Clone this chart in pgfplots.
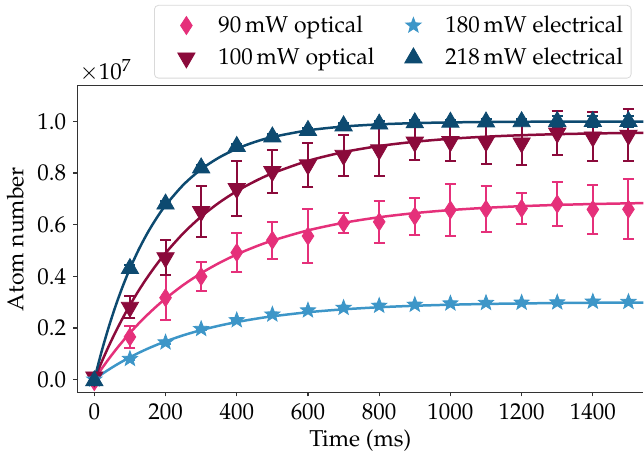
\documentclass[border=0pt]{standalone}
\usepackage[T1]{fontenc}
\usepackage{mathpazo}
\usepackage{pgfplots}
\pgfplotsset{compat=1.18}
\usepackage{pgfplotstable}

\definecolor{cpink}{HTML}{E5307A}
\definecolor{cred}{HTML}{8B0A3B}
\definecolor{clight}{HTML}{3D96C8}
\definecolor{cdark}{HTML}{0D4A70}

% filled star and slim diamond, matplotlib-like
\pgfdeclareplotmark{fstar}{%
  \pgfpathmoveto{\pgfpointpolar{90}{\pgfplotmarksize}}%
  \pgfpathlineto{\pgfpointpolar{126}{0.42*\pgfplotmarksize}}%
  \pgfpathlineto{\pgfpointpolar{162}{\pgfplotmarksize}}%
  \pgfpathlineto{\pgfpointpolar{198}{0.42*\pgfplotmarksize}}%
  \pgfpathlineto{\pgfpointpolar{234}{\pgfplotmarksize}}%
  \pgfpathlineto{\pgfpointpolar{270}{0.42*\pgfplotmarksize}}%
  \pgfpathlineto{\pgfpointpolar{306}{\pgfplotmarksize}}%
  \pgfpathlineto{\pgfpointpolar{342}{0.42*\pgfplotmarksize}}%
  \pgfpathlineto{\pgfpointpolar{18}{\pgfplotmarksize}}%
  \pgfpathlineto{\pgfpointpolar{54}{0.42*\pgfplotmarksize}}%
  \pgfpathclose\pgfusepathqfillstroke}
\pgfdeclareplotmark{fdiam}{%
  \pgfpathmoveto{\pgfpoint{0pt}{\pgfplotmarksize}}%
  \pgfpathlineto{\pgfpoint{0.65*\pgfplotmarksize}{0pt}}%
  \pgfpathlineto{\pgfpoint{0pt}{-\pgfplotmarksize}}%
  \pgfpathlineto{\pgfpoint{-0.65*\pgfplotmarksize}{0pt}}%
  \pgfpathclose\pgfusepathqfillstroke}

% data: time (ms), atom number (1e7), error
\pgfplotstableread{
x y e
0 -0.008 0.010
100 0.165 0.041
200 0.317 0.087
300 0.399 0.057
400 0.492 0.076
500 0.540 0.072
600 0.556 0.105
700 0.606 0.039
800 0.611 0.082
900 0.633 0.072
1000 0.657 0.100
1100 0.660 0.090
1200 0.663 0.060
1300 0.680 0.086
1400 0.659 0.096
1500 0.660 0.117
}\pinkdata
\pgfplotstableread{
x y e
0 0.010 0.010
100 0.280 0.042
200 0.472 0.068
300 0.651 0.100
400 0.740 0.108
500 0.806 0.084
600 0.832 0.084
700 0.869 0.079
800 0.890 0.100
900 0.920 0.070
1000 0.922 0.075
1100 0.922 0.087
1200 0.917 0.085
1300 0.955 0.084
1400 0.940 0.095
1500 0.947 0.100
}\reddata
\pgfplotstableread{
x y e
0 0.000 0.003
100 0.080 0.005
200 0.144 0.005
300 0.196 0.005
400 0.230 0.005
500 0.252 0.005
600 0.268 0.005
700 0.278 0.005
800 0.286 0.005
900 0.290 0.005
1000 0.295 0.005
1100 0.297 0.005
1200 0.298 0.005
1300 0.299 0.005
1400 0.302 0.005
1500 0.301 0.005
}\lightdata
\pgfplotstableread{
x y e
0 -0.005 0.010
100 0.430 0.015
200 0.680 0.012
300 0.820 0.012
400 0.903 0.010
500 0.940 0.010
600 0.965 0.010
700 0.983 0.012
800 0.990 0.010
900 0.995 0.010
1000 0.997 0.010
1100 0.998 0.012
1200 0.999 0.010
1300 1.000 0.020
1400 1.000 0.022
1500 1.000 0.020
}\darkdata

% fitted curves, tabulated
\pgfplotstableread{
x pink red light dark
0 0 0 0 0
20 0.0406 0.0661 0.0197 0.1063
40 0.0788 0.1278 0.0380 0.2012
60 0.1147 0.1852 0.0552 0.2862
80 0.1486 0.2386 0.0712 0.3620
100 0.1804 0.2883 0.0862 0.4298
125 0.2176 0.3457 0.1036 0.5045
150 0.2520 0.3981 0.1196 0.5695
175 0.2840 0.4461 0.1342 0.6259
200 0.3136 0.4901 0.1477 0.6749
250 0.3665 0.5669 0.1715 0.7545
300 0.4120 0.6312 0.1915 0.8146
350 0.4511 0.6850 0.2084 0.8600
400 0.4847 0.7299 0.2227 0.8943
450 0.5136 0.7675 0.2347 0.9202
500 0.5383 0.7990 0.2449 0.9397
600 0.5780 0.8474 0.2608 0.9656
700 0.6073 0.8812 0.2720 0.9804
800 0.6289 0.9049 0.2801 0.9888
900 0.6449 0.9214 0.2858 0.9936
1000 0.6567 0.9330 0.2899 0.9964
1100 0.6654 0.9411 0.2928 0.9979
1200 0.6718 0.9468 0.2949 0.9988
1300 0.6766 0.9508 0.2963 0.9993
1400 0.6801 0.9535 0.2974 0.9996
1500 0.6827 0.9555 0.2981 0.9998
1550 0.6837 0.9562 0.2984 0.9998
}\fits

\begin{document}
\begin{tikzpicture}[font=\fontsize{11.5}{13.8}\selectfont]
\begin{axis}[
    name=ax,
    scale only axis,
    width=283.5pt, height=153.5pt,
    xmin=-48, xmax=1542,
    ymin=-0.05, ymax=1.138,
    axis x line*=box, axis y line*=left,
    xtick pos=left, ytick pos=left,
    tick align=outside,
    major tick length=2pt,
    axis line style={black!80, line width=0.6pt},
    tick style={black!80, line width=0.6pt},
    xtick={0,200,400,600,800,1000,1200,1400},
    ytick={0,0.2,0.4,0.6,0.8,1.0},
    scaled y ticks=false,
    x tick label style={/pgf/number format/.cd, set thousands separator={}},
    y tick label style={/pgf/number format/.cd, fixed, fixed zerofill, precision=1},
    xlabel={Time (ms)},
    xlabel style={yshift=2pt},
    ylabel={Atom number},
    error bars/y dir=both,
    error bars/y explicit,
    error bars/error mark options={rotate=90, mark size=2.75pt, line width=1pt},
    legend columns=2,
    transpose legend,
    legend cell align=left,
    legend image code/.code={%
        \draw[#1] plot coordinates {(14pt,0pt)};
        \path[draw=none, fill=none] (0pt,0pt) -- (28pt,0pt);},
    legend style={at={(0.979,1.264)}, anchor=north east, draw=black!15,
        rounded corners=2pt, inner sep=2pt,
        nodes={inner ysep=3.2pt},
        /tikz/every even column/.append style={column sep=3.5pt}},
]
\addplot[cpink, line width=1.25pt, smooth, forget plot] table[x=x, y=pink] {\fits};
\addplot[cpink, only marks, mark=fdiam, mark size=4.5pt,
    error bars/error bar style={line width=1pt, cpink}]
    table[x=x, y=y, y error=e] {\pinkdata};
\addlegendentry{90\,mW optical}
\addplot[cred, line width=1.25pt, smooth, forget plot] table[x=x, y=red] {\fits};
\addplot[cred, only marks, mark=triangle*, mark size=5pt, mark options={rotate=180},
    error bars/error bar style={line width=1pt, cred}]
    table[x=x, y=y, y error=e] {\reddata};
\addlegendentry{100\,mW optical}
\addplot[clight, line width=1.25pt, smooth, forget plot] table[x=x, y=light] {\fits};
\addplot[clight, only marks, mark=fstar, mark size=4pt,
    error bars/error bar style={line width=1pt, clight}]
    table[x=x, y=y, y error=e] {\lightdata};
\addlegendentry{180\,mW electrical}
\addplot[cdark, line width=1.25pt, smooth, forget plot] table[x=x, y=dark] {\fits};
\addplot[cdark, only marks, mark=triangle*, mark size=5pt,
    error bars/error bar style={line width=1pt, cdark}]
    table[x=x, y=y, y error=e] {\darkdata};
\addlegendentry{218\,mW electrical}
\end{axis}
\node[anchor=south west, inner sep=1pt] at ([yshift=1pt]ax.north west) {$\times 10^{7}$};
\path ([shift={(-38.5pt,-33.5pt)}]ax.south west) rectangle ([shift={(0pt,43pt)}]ax.north east);
\end{tikzpicture}
\end{document}
